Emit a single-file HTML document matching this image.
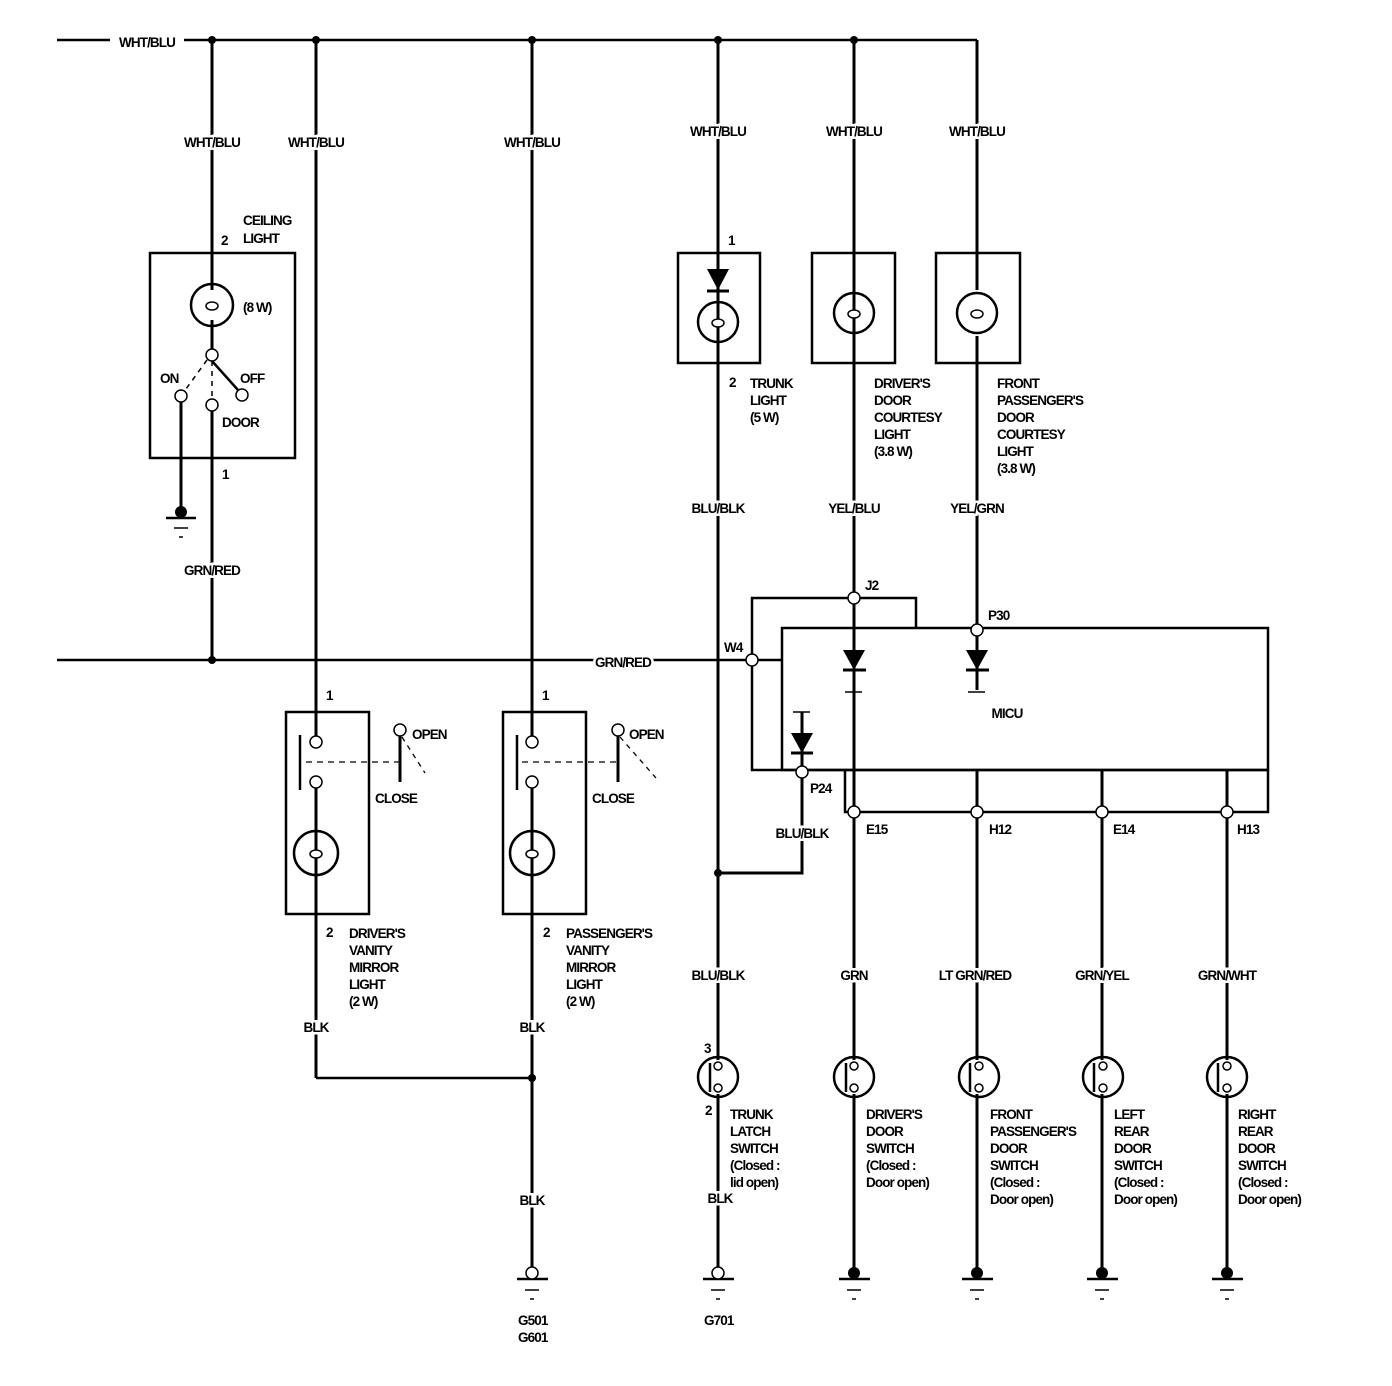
<!DOCTYPE html>
<html><head><meta charset="utf-8"><style>
html,body{margin:0;padding:0;background:#fff}
svg{display:block}
text{font-family:"Liberation Sans Narrow","Liberation Sans",sans-serif;font-weight:bold;font-size:13.5px;letter-spacing:-0.9px;fill:#000}
.h{stroke:#fff;stroke-width:5;paint-order:stroke;}
</style></head><body>
<svg width="1392" height="1386" viewBox="0 0 1392 1386" xmlns="http://www.w3.org/2000/svg">
<g fill="none" stroke="#000" stroke-width="3">
<!-- top bus -->
<line x1="57" y1="40" x2="110" y2="40" stroke-width="2.5"/>
<line x1="184" y1="40" x2="977" y2="40" stroke-width="2.5"/>
<line x1="977" y1="40" x2="977" y2="290"/>
<line x1="977" y1="336" x2="977" y2="630"/>
<!-- verticals -->
<line x1="212" y1="40" x2="212" y2="290"/>
<line x1="212" y1="320" x2="212" y2="350"/>
<line x1="212" y1="411" x2="212" y2="660"/>
<line x1="316" y1="40" x2="316" y2="736"/>
<line x1="316" y1="788" x2="316" y2="1078"/>
<line x1="532" y1="40" x2="532" y2="736"/>
<line x1="532" y1="788" x2="532" y2="1267"/>
<line x1="718" y1="40" x2="718" y2="1060"/>
<line x1="718" y1="1094" x2="718" y2="1267"/>
<line x1="854" y1="40" x2="854" y2="592"/>
<line x1="854" y1="604" x2="854" y2="690"/>
<line x1="316" y1="1078" x2="532" y2="1078" stroke-width="2.5"/>
<!-- GRN/RED bus -->
<line x1="57" y1="660" x2="746" y2="660" stroke-width="2.5"/>
<line x1="758" y1="660" x2="782" y2="660" stroke-width="2.5"/>
<!-- ceiling light -->
<rect x="150" y="253" width="145" height="205" stroke-width="2.5"/>
<circle cx="212" cy="305" r="21" stroke-width="2.5"/>
<line x1="212" y1="361" x2="238" y2="390" stroke-width="2.5"/>
<line x1="207" y1="360" x2="186" y2="389" stroke-width="1.5" stroke-dasharray="5,5"/>
<line x1="212" y1="361" x2="212" y2="399" stroke-width="1.5" stroke-dasharray="5,5"/>
<line x1="181" y1="401" x2="181" y2="512"/>
<!-- vanity boxes -->
<rect x="286" y="712" width="83" height="202" stroke-width="2.5"/>
<rect x="503" y="712" width="83" height="202" stroke-width="2.5"/>
<circle cx="316" cy="853" r="22" stroke-width="2.5"/>
<circle cx="532" cy="853" r="22" stroke-width="2.5"/>
<line x1="300" y1="735" x2="300" y2="790" stroke-width="2.5"/>
<line x1="517" y1="735" x2="517" y2="790" stroke-width="2.5"/>
<line x1="306" y1="762" x2="400" y2="762" stroke-width="1.3" stroke-dasharray="6,5"/>
<line x1="522" y1="762" x2="618" y2="762" stroke-width="1.3" stroke-dasharray="6,5"/>
<line x1="400" y1="736" x2="400" y2="782"/>
<line x1="618" y1="736" x2="618" y2="782"/>
<line x1="402" y1="737" x2="425" y2="773" stroke-width="1.3" stroke-dasharray="5,5"/>
<line x1="620" y1="737" x2="656" y2="778" stroke-width="1.3" stroke-dasharray="5,5"/>
<!-- top boxes -->
<rect x="678" y="253" width="82" height="110" stroke-width="2.5"/>
<rect x="812" y="253" width="83" height="110" stroke-width="2.5"/>
<rect x="936" y="253" width="84" height="110" stroke-width="2.5"/>
<circle cx="718" cy="322" r="20" stroke-width="2.5"/>
<circle cx="854" cy="313" r="20" stroke-width="2.5"/>
<circle cx="977" cy="313" r="20" stroke-width="2.5"/>
<line x1="707" y1="291" x2="729" y2="291"/>
<!-- MICU -->
<rect x="782" y="628" width="486" height="142" stroke-width="2.5"/>
<polyline points="916,628 916,598 752,598 752,770 1268,770" stroke-width="2.5"/>
<polyline points="845,770 845,812 1268,812 1268,770" stroke-width="2.5"/>
<line x1="854" y1="690" x2="854" y2="812"/>
<line x1="977" y1="636" x2="977" y2="690"/>
<line x1="977" y1="770" x2="977" y2="1060"/>
<line x1="854" y1="812" x2="854" y2="1060"/>
<line x1="1102" y1="770" x2="1102" y2="1060"/>
<line x1="1227" y1="770" x2="1227" y2="1060"/>
<line x1="854" y1="1094" x2="854" y2="1272"/>
<line x1="977" y1="1094" x2="977" y2="1272"/>
<line x1="1102" y1="1094" x2="1102" y2="1272"/>
<line x1="1227" y1="1094" x2="1227" y2="1272"/>
<line x1="843" y1="670" x2="866" y2="670"/>
<line x1="966" y1="670" x2="989" y2="670"/>
<line x1="845" y1="692" x2="862" y2="692" stroke-width="1.5"/>
<line x1="968" y1="692" x2="985" y2="692" stroke-width="1.5"/>
<line x1="802" y1="712" x2="802" y2="766"/>
<line x1="793" y1="712" x2="810" y2="712" stroke-width="1.5"/>
<line x1="791" y1="753" x2="813" y2="753"/>
<polyline points="802,778 802,873 718,873"/>
<!-- door switches -->
<circle cx="718" cy="1077" r="20" stroke-width="2.5"/>
<circle cx="854" cy="1077" r="20" stroke-width="2.5"/>
<circle cx="979" cy="1077" r="20" stroke-width="2.5"/>
<circle cx="1103" cy="1077" r="20" stroke-width="2.5"/>
<circle cx="1227" cy="1077" r="20" stroke-width="2.5"/>
<g stroke-width="2.5">
<line x1="710" y1="1063" x2="710" y2="1092"/>
<line x1="846" y1="1063" x2="846" y2="1092"/>
<line x1="970" y1="1063" x2="970" y2="1092"/>
<line x1="1094" y1="1063" x2="1094" y2="1092"/>
<line x1="1218" y1="1063" x2="1218" y2="1092"/>
</g>
<!-- grounds -->
<g stroke-width="2.5">
<line x1="166" y1="518" x2="196" y2="518"/>
<line x1="517" y1="1279" x2="548" y2="1279"/>
<line x1="703" y1="1279" x2="734" y2="1279"/>
<line x1="839" y1="1279" x2="870" y2="1279"/>
<line x1="962" y1="1279" x2="993" y2="1279"/>
<line x1="1087" y1="1279" x2="1118" y2="1279"/>
<line x1="1212" y1="1279" x2="1243" y2="1279"/>
</g>
<g stroke-width="1.5">
<line x1="174" y1="528" x2="188" y2="528"/><line x1="179" y1="537" x2="183" y2="537"/>
<line x1="525" y1="1290" x2="539" y2="1290"/><line x1="530" y1="1299" x2="534" y2="1299"/>
<line x1="711" y1="1290" x2="725" y2="1290"/><line x1="716" y1="1299" x2="720" y2="1299"/>
<line x1="847" y1="1290" x2="861" y2="1290"/><line x1="852" y1="1299" x2="856" y2="1299"/>
<line x1="970" y1="1290" x2="984" y2="1290"/><line x1="975" y1="1299" x2="979" y2="1299"/>
<line x1="1095" y1="1290" x2="1109" y2="1290"/><line x1="1100" y1="1299" x2="1104" y2="1299"/>
<line x1="1220" y1="1290" x2="1234" y2="1290"/><line x1="1225" y1="1299" x2="1229" y2="1299"/>
</g>
</g>
<!-- filled dots -->
<g fill="#000">
<circle cx="212" cy="40" r="4"/><circle cx="316" cy="40" r="4"/><circle cx="532" cy="40" r="4"/>
<circle cx="718" cy="40" r="4"/><circle cx="854" cy="40" r="4"/>
<circle cx="212" cy="660" r="4"/><circle cx="532" cy="1078" r="4"/><circle cx="718" cy="873" r="4"/>
<circle cx="181" cy="512" r="6"/>
<circle cx="854" cy="1273" r="6"/><circle cx="977" cy="1273" r="6"/><circle cx="1102" cy="1273" r="6"/><circle cx="1227" cy="1273" r="6"/>
<polygon points="707,269 729,269 718,290"/>
<polygon points="843,650 865,650 854,670"/>
<polygon points="966,650 988,650 977,670"/>
<polygon points="791,733 813,733 802,753"/>
</g>
<!-- open circles -->
<g fill="#fff" stroke="#000" stroke-width="1.5">
<circle cx="212" cy="355" r="6"/><circle cx="181" cy="396" r="6"/><circle cx="212" cy="405" r="6"/><circle cx="242" cy="395" r="6"/>
<circle cx="316" cy="742" r="6"/><circle cx="316" cy="782" r="6"/><circle cx="532" cy="742" r="6"/><circle cx="532" cy="782" r="6"/>
<circle cx="400" cy="730" r="6"/><circle cx="618" cy="730" r="6"/>
<circle cx="854" cy="598" r="6"/><circle cx="977" cy="630" r="6"/><circle cx="752" cy="660" r="6"/><circle cx="802" cy="772" r="6"/>
<circle cx="854" cy="812" r="6"/><circle cx="977" cy="812" r="6"/><circle cx="1102" cy="812" r="6"/><circle cx="1227" cy="812" r="6"/>
<circle cx="532" cy="1273" r="6"/><circle cx="718" cy="1273" r="6"/>
<circle cx="718" cy="1066" r="4"/><circle cx="718" cy="1088" r="4"/>
<circle cx="854" cy="1066" r="4"/><circle cx="854" cy="1088" r="4"/>
<circle cx="979" cy="1066" r="4"/><circle cx="979" cy="1088" r="4"/>
<circle cx="1103" cy="1066" r="4"/><circle cx="1103" cy="1088" r="4"/>
<circle cx="1227" cy="1066" r="4"/><circle cx="1227" cy="1088" r="4"/>
<ellipse cx="212" cy="306" rx="6" ry="4"/><ellipse cx="316" cy="854" rx="6" ry="4"/><ellipse cx="532" cy="854" rx="6" ry="4"/>
<ellipse cx="718" cy="323" rx="6" ry="4"/><ellipse cx="854" cy="314" rx="6" ry="4"/><ellipse cx="977" cy="314" rx="6" ry="4"/>
</g>
<!-- labels -->
<g text-anchor="middle">
<text x="147" y="47" class="h">WHT/BLU</text>
<text x="212" y="147" class="h">WHT/BLU</text>
<text x="316" y="147" class="h">WHT/BLU</text>
<text x="532" y="147" class="h">WHT/BLU</text>
<text x="718" y="136" class="h">WHT/BLU</text>
<text x="854" y="136" class="h">WHT/BLU</text>
<text x="977" y="136" class="h">WHT/BLU</text>
<text x="212" y="575" class="h">GRN/RED</text>
<text x="623" y="667" class="h">GRN/RED</text>
<text x="718" y="513" class="h">BLU/BLK</text>
<text x="854" y="513" class="h">YEL/BLU</text>
<text x="977" y="513" class="h">YEL/GRN</text>
<text x="802" y="838" class="h">BLU/BLK</text>
<text x="718" y="980" class="h">BLU/BLK</text>
<text x="854" y="980" class="h">GRN</text>
<text x="975" y="980" class="h">LT GRN/RED</text>
<text x="1102" y="980" class="h">GRN/YEL</text>
<text x="1227" y="980" class="h">GRN/WHT</text>
<text x="316" y="1032" class="h">BLK</text>
<text x="532" y="1032" class="h">BLK</text>
<text x="532" y="1205" class="h">BLK</text>
<text x="720" y="1203" class="h">BLK</text>
<text x="1007" y="718">MICU</text>
</g>
<text x="243" y="225">CEILING</text><text x="243" y="243">LIGHT</text>
<text x="221" y="245">2</text>
<text x="243" y="312">(8 W)</text>
<text x="160" y="383">ON</text><text x="240" y="383">OFF</text><text x="222" y="427">DOOR</text>
<text x="222" y="479">1</text>
<text x="326" y="700">1</text><text x="542" y="700">1</text>
<text x="412" y="739">OPEN</text><text x="629" y="739">OPEN</text>
<text x="375" y="803">CLOSE</text><text x="592" y="803">CLOSE</text>
<text x="326" y="937">2</text><text x="543" y="937">2</text>
<text x="349" y="938">DRIVER'S<tspan x="349" dy="17">VANITY</tspan><tspan x="349" dy="17">MIRROR</tspan><tspan x="349" dy="17">LIGHT</tspan><tspan x="349" dy="17">(2 W)</tspan></text>
<text x="566" y="938">PASSENGER'S<tspan x="566" dy="17">VANITY</tspan><tspan x="566" dy="17">MIRROR</tspan><tspan x="566" dy="17">LIGHT</tspan><tspan x="566" dy="17">(2 W)</tspan></text>
<text x="728" y="245">1</text>
<text x="729" y="387">2</text>
<text x="750" y="388">TRUNK<tspan x="750" dy="17">LIGHT</tspan><tspan x="750" dy="17">(5 W)</tspan></text>
<text x="874" y="388">DRIVER'S<tspan x="874" dy="17">DOOR</tspan><tspan x="874" dy="17">COURTESY</tspan><tspan x="874" dy="17">LIGHT</tspan><tspan x="874" dy="17">(3.8 W)</tspan></text>
<text x="997" y="388">FRONT<tspan x="997" dy="17">PASSENGER'S</tspan><tspan x="997" dy="17">DOOR</tspan><tspan x="997" dy="17">COURTESY</tspan><tspan x="997" dy="17">LIGHT</tspan><tspan x="997" dy="17">(3.8 W)</tspan></text>
<text x="865" y="590">J2</text>
<text x="988" y="620">P30</text>
<text x="724" y="652">W4</text>
<text x="810" y="793">P24</text>
<text x="866" y="834">E15</text>
<text x="989" y="834">H12</text>
<text x="1113" y="834">E14</text>
<text x="1237" y="834">H13</text>
<text x="704" y="1053">3</text>
<text x="705" y="1115">2</text>
<text x="730" y="1119">TRUNK<tspan x="730" dy="17">LATCH</tspan><tspan x="730" dy="17">SWITCH</tspan><tspan x="730" dy="17">(Closed :</tspan><tspan x="730" dy="17">lid open)</tspan></text>
<text x="866" y="1119">DRIVER'S<tspan x="866" dy="17">DOOR</tspan><tspan x="866" dy="17">SWITCH</tspan><tspan x="866" dy="17">(Closed :</tspan><tspan x="866" dy="17">Door open)</tspan></text>
<text x="990" y="1119">FRONT<tspan x="990" dy="17">PASSENGER'S</tspan><tspan x="990" dy="17">DOOR</tspan><tspan x="990" dy="17">SWITCH</tspan><tspan x="990" dy="17">(Closed :</tspan><tspan x="990" dy="17">Door open)</tspan></text>
<text x="1114" y="1119">LEFT<tspan x="1114" dy="17">REAR</tspan><tspan x="1114" dy="17">DOOR</tspan><tspan x="1114" dy="17">SWITCH</tspan><tspan x="1114" dy="17">(Closed :</tspan><tspan x="1114" dy="17">Door open)</tspan></text>
<text x="1238" y="1119">RIGHT<tspan x="1238" dy="17">REAR</tspan><tspan x="1238" dy="17">DOOR</tspan><tspan x="1238" dy="17">SWITCH</tspan><tspan x="1238" dy="17">(Closed :</tspan><tspan x="1238" dy="17">Door open)</tspan></text>
<text x="518" y="1325">G501</text><text x="518" y="1342">G601</text>
<text x="704" y="1325">G701</text>
</svg>
</body></html>
